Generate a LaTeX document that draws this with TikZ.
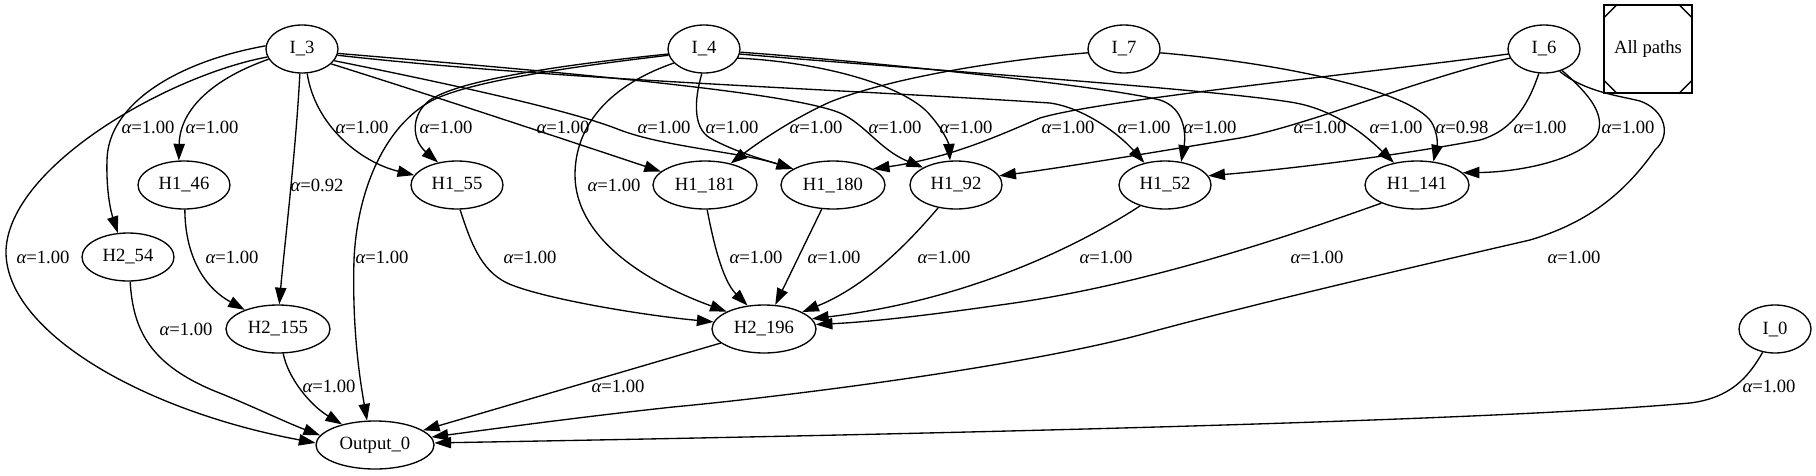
\documentclass[tikz,border=0pt]{standalone}
\usepackage{fontspec}
\setmainfont{Liberation Serif}
\usetikzlibrary{shapes.geometric,arrows.meta}
\newcommand\alab[1]{{\itshape α}=#1}
\begin{document}
\begin{tikzpicture}[x=0.75pt,y=-0.75pt,
  every node/.style={font=\fontsize{14}{16}\selectfont},
  nd/.style={draw, ellipse, line width=1pt, inner sep=0pt, minimum height=36pt, minimum width=54pt},
  wa/.style={minimum width=69pt},
  wb/.style={minimum width=78pt},
  wc/.style={minimum width=88.5pt},
  lbl/.style={inner sep=0pt},
  edge/.style={line width=1pt, -{Triangle[length=12.5pt,width=8.5pt]}}]
\useasboundingbox (0,0) rectangle (1816,475);

% nodes
\node[nd] (I3) at (302,49) {I\_3};
\node[nd] (I4) at (704,49) {I\_4};
\node[nd] (I7) at (1124,49) {I\_7};
\node[nd] (I6) at (1544,49) {I\_6};
\node[draw, line width=1pt, minimum size=66pt, inner sep=0pt] (AP) at (1648,49) {All paths};
\draw[line width=1pt] ([yshift=-10.5pt]AP.north west) -- ([xshift=10.5pt]AP.north west);
\draw[line width=1pt] ([yshift=-10.5pt]AP.north east) -- ([xshift=-10.5pt]AP.north east);
\draw[line width=1pt] ([yshift=10.5pt]AP.south west) -- ([xshift=10.5pt]AP.south west);
\draw[line width=1pt] ([yshift=10.5pt]AP.south east) -- ([xshift=-10.5pt]AP.south east);
\node[nd,wa] (H146) at (184,185) {H1\_46};
\node[nd,wa] (H155) at (457,185) {H1\_55};
\node[nd,wb] (H1181) at (705,185) {H1\_181};
\node[nd,wb] (H1180) at (833,185) {H1\_180};
\node[nd,wa] (H192) at (956,185) {H1\_92};
\node[nd,wa] (H152) at (1165,185) {H1\_52};
\node[nd,wb] (H1141) at (1417,185) {H1\_141};
\node[nd,wa] (H254) at (128,257) {H2\_54};
\node[nd,wb] (H2155) at (278,329) {H2\_155};
\node[nd,wb] (H2196) at (764,329) {H2\_196};
\node[nd] (I0) at (1775,329) {I\_0};
\node[nd,wc] (Out) at (375,445) {Output\_0};

% edges from I_3
\draw[edge] (I3.175) .. controls (175,62) and (108,105) .. (107,160) .. controls (106,195) and (112,215) .. (H254.113);
\draw[edge] (I3.197) .. controls (215,78) and (180,108) .. (H146.102);
\draw[edge] (I3.265) .. controls (296,150) and (284,250) .. (H2155.87);
\draw[edge] (I3.282) .. controls (315,125) and (360,162) .. (H155.167);
\draw[edge] (I3.193) .. controls (170,75) and (10,165) .. (6,250) .. controls (4,330) and (140,410) .. (Out.178);
\draw[edge] (I3.333) .. controls (440,98) and (560,138) .. (H1181.163);
\draw[edge] (I3.340) .. controls (470,88) and (575,112) .. (620,130) .. controls (665,147) and (740,152) .. (H1180.158);
\draw[edge] (I3.353) .. controls (560,72) and (790,92) .. (840,113) .. controls (865,124) and (880,150) .. (H192.152);
\draw[edge] (I3.350) .. controls (560,80) and (820,88) .. (1050,103) .. controls (1085,108) and (1120,135) .. (H152.133);

% edges from I_4
\draw[edge] (I4.188) .. controls (560,65) and (460,80) .. (430,100) .. controls (410,115) and (412,140) .. (H155.130);
\draw[edge] (I4.190) .. controls (560,68) and (470,82) .. (433,100) .. controls (385,125) and (357,190) .. (354,260) .. controls (352,330) and (360,380) .. (Out.108);
\draw[edge] (I4.205) .. controls (610,85) and (575,125) .. (575,175) .. controls (575,235) and (640,280) .. (H2196.155);
\draw[edge] (I4.265) .. controls (694,100) and (693,128) .. (710,138) .. controls (735,152) and (765,160) .. (H1180.158);
\draw[edge] (I4.345) .. controls (820,62) and (905,85) .. (930,115) .. controls (945,132) and (949,145) .. (H192.104);
\draw[edge] (I4.355) .. controls (850,60) and (1100,85) .. (1160,100) .. controls (1185,108) and (1186,135) .. (H152.55);
\draw[edge] (I4.352) .. controls (900,68) and (1200,88) .. (1290,102) .. controls (1330,108) and (1360,130) .. (H1141.136);

% edges from I_7
\draw[edge] (I7.186) .. controls (1000,60) and (890,78) .. (830,102) .. controls (790,120) and (755,145) .. (H1181.40);
\draw[edge] (I7.354) .. controls (1300,65) and (1420,95) .. (1433,125) .. controls (1440,140) and (1436,150) .. (H1141.55);

% edges from I_6
\draw[edge] (I6.188) .. controls (1350,75) and (1100,100) .. (1040,118) .. controls (1000,135) and (950,158) .. (H1180.22);
\draw[edge] (I6.195) .. controls (1420,78) and (1310,125) .. (1240,138) .. controls (1150,153) and (1060,168) .. (H192.12);
\draw[edge] (I6.258) .. controls (1530,100) and (1515,130) .. (1480,140) .. controls (1400,155) and (1300,168) .. (H152.12);
\draw[edge] (I6.310) .. controls (1590,95) and (1606,115) .. (1597,135) .. controls (1580,160) and (1520,172) .. (H1141.15);
\draw[edge] (I6.305) .. controls (1585,92) and (1620,96) .. (1640,101) .. controls (1665,110) and (1672,135) .. (1655,150) .. controls (1620,200) and (1580,225) .. (1530,240) .. controls (1400,270) and (1250,305) .. (1147,333) .. controls (1030,365) and (800,395) .. (673,407) .. controls (580,417) and (500,428) .. (Out.8);

% edge from I_0
\draw[edge] (I0.242) .. controls (1748,378) and (1730,398) .. (1690,403) .. controls (1500,420) and (1000,433) .. (Out.2);

% edges from hidden layers
\draw[edge] (H146.272) .. controls (185,250) and (200,285) .. (H2155.150);
\draw[edge] (H155.277) .. controls (470,240) and (480,270) .. (507,283) .. controls (540,298) and (640,315) .. (H2196.172);
\draw[edge] (H1181.275) .. controls (713,240) and (722,280) .. (H2196.125);
\draw[edge] (H1180.245) -- (H2196.65);
\draw[edge] (H192.232) .. controls (915,235) and (870,285) .. (H2196.24);
\draw[edge] (H152.220) .. controls (1080,245) and (970,300) .. (H2196.12);
\draw[edge] (H1141.207) .. controls (1300,232) and (1150,285) .. (1000,305) .. controls (930,315) and (870,322) .. (H2196.5);
\draw[edge] (H254.275) .. controls (133,330) and (150,365) .. (217,392) .. controls (250,405) and (285,422) .. (Out.170);
\draw[edge] (H2155.282) .. controls (288,378) and (310,405) .. (Out.148);
\draw[edge] (H2196.198) -- (Out.17);

% labels
\node[lbl] (l1) at (148,127) {\alab{1.00}};
\node[lbl] (l2) at (212,127) {\alab{1.00}};
\node[lbl] (l3) at (362,127) {\alab{1.00}};
\node[lbl] (l4) at (446,127) {\alab{1.00}};
\node[lbl] (l5) at (563,127) {\alab{1.00}};
\node[lbl] (l6) at (664,127) {\alab{1.00}};
\node[lbl] (l7) at (732,127) {\alab{1.00}};
\node[lbl] (l8) at (816,127) {\alab{1.00}};
\node[lbl] (l9) at (895,127) {\alab{1.00}};
\node[lbl] (l10) at (966,127) {\alab{1.00}};
\node[lbl] (l11) at (1068,127) {\alab{1.00}};
\node[lbl] (l12) at (1144,127) {\alab{1.00}};
\node[lbl] (l13) at (1210,127) {\alab{1.00}};
\node[lbl] (l14) at (1320,127) {\alab{1.00}};
\node[lbl] (l15) at (1396,127) {\alab{1.00}};
\node[lbl] (l16) at (1462,127) {\alab{0.98}};
\node[lbl] (l17) at (1540,127) {\alab{1.00}};
\node[lbl] (l18) at (1628,127) {\alab{1.00}};
\node[lbl] (l19) at (317,185) {\alab{0.92}};
\node[lbl] (l20) at (614,185) {\alab{1.00}};
\node[lbl] (l21) at (43,257) {\alab{1.00}};
\node[lbl] (l22) at (232,257) {\alab{1.00}};
\node[lbl] (l23) at (382,257) {\alab{1.00}};
\node[lbl] (l24) at (530,257) {\alab{1.00}};
\node[lbl] (l25) at (756,257) {\alab{1.00}};
\node[lbl] (l26) at (834,257) {\alab{1.00}};
\node[lbl] (l27) at (944,257) {\alab{1.00}};
\node[lbl] (l28) at (1106,257) {\alab{1.00}};
\node[lbl] (l29) at (1317,257) {\alab{1.00}};
\node[lbl] (l30) at (1574,257) {\alab{1.00}};
\node[lbl] (l31) at (186,329) {\alab{1.00}};
\node[lbl] (l32) at (329,386) {\alab{1.00}};
\node[lbl] (l33) at (618,386) {\alab{1.00}};
\node[lbl] (l34) at (1769,386) {\alab{1.00}};
\end{tikzpicture}
\end{document}
